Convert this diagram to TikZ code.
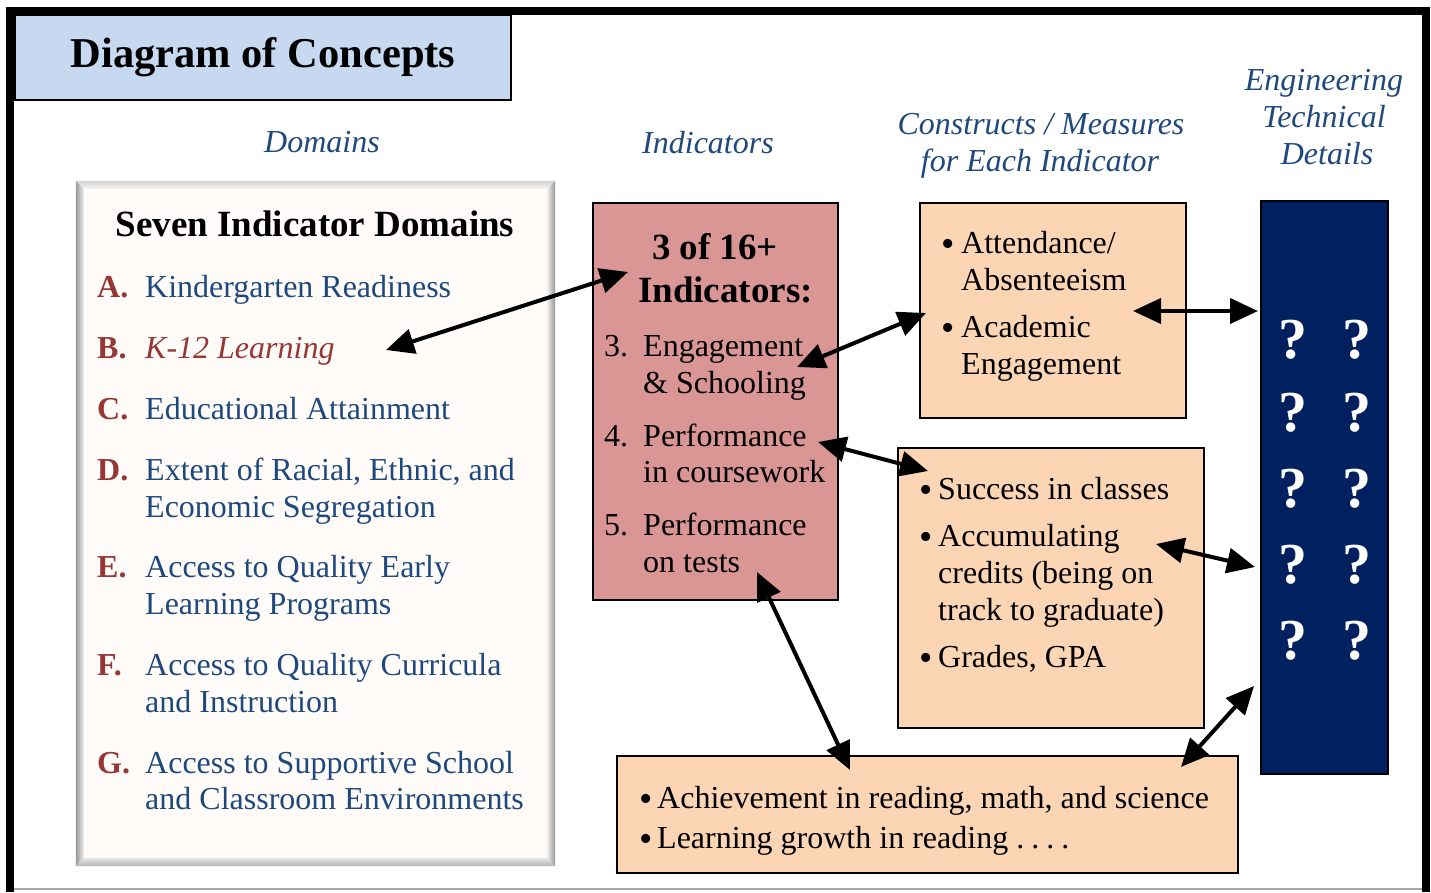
\documentclass[tikz,border=0pt]{standalone}
\usepackage{fontspec}
\setmainfont{Liberation Serif}
\usetikzlibrary{arrows.meta}
\definecolor{titleblue}{RGB}{198,217,241}
\definecolor{txtblue}{RGB}{31,73,125}
\definecolor{ltrred}{RGB}{149,55,53}
\definecolor{indfill}{RGB}{217,150,148}
\definecolor{confill}{RGB}{252,213,181}
\definecolor{navy}{RGB}{0,32,96}
\definecolor{domfill}{RGB}{254,251,249}
\tikzset{
  body/.style={font=\fontsize{32}{37}\selectfont, inner sep=0pt, anchor=base west},
  hdr/.style={font=\fontsize{32}{37}\selectfont\itshape, text=txtblue, inner sep=0pt, anchor=base},
  ltr/.style={font=\fontsize{32}{37}\selectfont\bfseries, text=ltrred, inner sep=0pt, anchor=base west},
  itm/.style={body, text=txtblue},
  bul/.style={font=\fontsize{38}{40}\selectfont, inner sep=0pt, anchor=base, yshift=-3pt, text height=16pt, text depth=0pt},
  boxed/.style={draw=black, line width=1.6pt, inner sep=0pt},
  qm/.style={font=\fontsize{58}{60}\selectfont\bfseries, text=white, inner sep=0pt},
  dbl/.style={{Triangle[length=28pt,width=25pt]}-{Triangle[length=28pt,width=25pt]}, line width=4pt},
}
\begin{document}
\begin{tikzpicture}[x=1pt,y=-1pt]
\useasboundingbox (0,0) rectangle (1431,892);
\fill[white] (0,0) rectangle (1431,892);
% outer frame
\draw[line width=8pt] (10,892) -- (10,11) -- (1426,11) -- (1426,892);
\draw[gray!70, line width=1.2pt] (14,889) -- (1422,889);

% title
\node[boxed, fill=titleblue, minimum width=496pt, minimum height=85pt] (title) at (263,57.5) {};
\node[font=\fontsize{42.5}{48}\selectfont\bfseries, inner sep=0pt, anchor=base] (titletxt) at (263,67) {Diagram of Concepts};

% headers
\node[hdr] (hdom) at (322,152) {Domains};
\node[hdr] (hind) at (708,153) {Indicators};
\node[hdr] (hcon1) at (1041,134) {Constructs / Measures};
\node[hdr] (hcon2) at (1040,171) {for Each Indicator};
\node[hdr] (heng1) at (1324,90) {Engineering};
\node[hdr] (heng2) at (1324,127) {Technical};
\node[hdr] (heng3) at (1327,164) {Details};

% domains box with bevel
\node[fill=domfill, inner sep=0pt, minimum width=479pt, minimum height=685pt] (dom) at (315.5,523.5) {};
\shade[top color=gray!35, bottom color=gray!8]
  (dom.north west) -- (dom.north east) -- ([shift={(-8,8)}]dom.north east) -- ([shift={(8,8)}]dom.north west) -- cycle;
\shade[left color=gray!80, right color=gray!12]
  (dom.north west) -- ([shift={(8,8)}]dom.north west) -- ([shift={(8,-8)}]dom.south west) -- (dom.south west) -- cycle;
\shade[left color=gray!12, right color=gray!85]
  (dom.north east) -- ([shift={(-8,8)}]dom.north east) -- ([shift={(-8,-8)}]dom.south east) -- (dom.south east) -- cycle;
\shade[top color=gray!20, bottom color=gray!60]
  (dom.south west) -- ([shift={(8,-8)}]dom.south west) -- ([shift={(-8,-8)}]dom.south east) -- (dom.south east) -- cycle;

\node[font=\fontsize{37}{42}\selectfont\bfseries, inner sep=0pt, anchor=base] (domtitle) at (315,236) {Seven Indicator Domains};
\node[ltr] (lA) at (97,297) {A.};
\node[itm] (tA) at (145,297) {Kindergarten Readiness};
\node[ltr] (lB) at (97,358) {B.};
\node[itm, text=ltrred, font=\fontsize{32}{37}\selectfont\itshape] (tB) at (145,358) {K-12 Learning};
\node[ltr] (lC) at (97,419) {C.};
\node[itm] (tC) at (145,419) {Educational Attainment};
\node[ltr] (lD) at (97,480) {D.};
\node[itm] (tD1) at (145,480) {Extent of Racial, Ethnic, and};
\node[itm] (tD2) at (145,517) {Economic Segregation};
\node[ltr] (lE) at (97,577) {E.};
\node[itm] (tE1) at (145,577) {Access to Quality Early};
\node[itm] (tE2) at (145,614) {Learning Programs};
\node[ltr] (lF) at (97,675) {F.};
\node[itm] (tF1) at (145,675) {Access to Quality Curricula};
\node[itm] (tF2) at (145,712) {and Instruction};
\node[ltr] (lG) at (97,773) {G.};
\node[itm] (tG1) at (145,773) {Access to Supportive School};
\node[itm] (tG2) at (145,809) {and Classroom Environments};

% indicators box
\node[boxed, fill=indfill, minimum width=245pt, minimum height=397pt] (ind) at (715.5,401.5) {};
\node[font=\fontsize{37}{42}\selectfont\bfseries, inner sep=0pt, anchor=base] (ind1) at (715,259) {3 of 16+};
\node[font=\fontsize{37}{42}\selectfont\bfseries, inner sep=0pt, anchor=base] (ind2) at (725.5,302) {Indicators:};
\node[body] (n3) at (604,356) {3.};
\node[body] (i3a) at (643,356) {Engagement};
\node[body] (i3b) at (643,393) {\& Schooling};
\node[body] (n4) at (604,446) {4.};
\node[body] (i4a) at (643,446) {Performance};
\node[body] (i4b) at (643,482) {in coursework};
\node[body] (n5) at (604,535) {5.};
\node[body] (i5a) at (643,535) {Performance};
\node[body] (i5b) at (643,572) {on tests};

% constructs box 1
\node[boxed, fill=confill, minimum width=266pt, minimum height=215pt] (con1) at (1053,310.5) {};
\node[bul] (b11) at (948,253) {\textbullet};
\node[body] (c11) at (961,253) {Attendance/};
\node[body] (c12) at (961,290) {Absenteeism};
\node[bul] (b12) at (948,337) {\textbullet};
\node[body] (c13) at (961,337) {Academic};
\node[body] (c14) at (961,374) {Engagement};

% constructs box 2
\node[boxed, fill=confill, minimum width=306pt, minimum height=280pt] (con2) at (1051,588) {};
\node[bul] (b21) at (926,499) {\textbullet};
\node[body] (c21) at (938,499) {Success in classes};
\node[bul] (b22) at (926,546) {\textbullet};
\node[body] (c22) at (938,546) {Accumulating};
\node[body] (c23) at (938,583) {credits (being on};
\node[body] (c24) at (938,620) {track to graduate)};
\node[bul] (b23) at (926,667) {\textbullet};
\node[body] (c25) at (938,667) {Grades, GPA};

% constructs box 3
\node[boxed, fill=confill, minimum width=621pt, minimum height=117pt] (con3) at (927.5,814.5) {};
\node[bul] (b31) at (646,808) {\textbullet};
\node[body] (c31) at (657,808) {Achievement in reading, math, and science};
\node[bul] (b32) at (646,848) {\textbullet};
\node[body] (c32) at (657,848) {Learning growth in reading .\hspace{0.22em}.\hspace{0.22em}.\hspace{0.22em}.};

% engineering box
\node[boxed, fill=navy, minimum width=127pt, minimum height=573pt] (eng) at (1324.5,487.5) {};
\foreach \r/\yy in {1/340,2/413,3/489,4/565,5/641}{
  \node[qm] (qa\r) at (1293,\yy) {?};
  \node[qm] (qb\r) at (1357,\yy) {?};
}

% connector end points
\coordinate (pB) at (386,350);
\coordinate (pInd) at (628,272);
\coordinate (pEng) at (797,367);
\coordinate (pCon1) at (926,313);
\coordinate (pAcad) at (1133,311);
\coordinate (pEng1) at (1258,311);
\coordinate (pPerf) at (818,442);
\coordinate (pSucc) at (928,471);
\coordinate (pAcc) at (1156,544);
\coordinate (pEng2) at (1255,567);
\coordinate (pTest) at (757,572);
\coordinate (pAch) at (850,770);
\coordinate (pLrn) at (1181,767);
\coordinate (pEng3) at (1254,686);

\draw[dbl] (pB) -- (pInd);
\draw[dbl] (pEng) -- (pCon1);
\draw[dbl] (pAcad) -- (pEng1);
\draw[dbl] (pPerf) -- (pSucc);
\draw[dbl] (pAcc) -- (pEng2);
\draw[dbl] (pTest) -- (pAch);
\draw[dbl] (pLrn) -- (pEng3);
\end{tikzpicture}
\end{document}
